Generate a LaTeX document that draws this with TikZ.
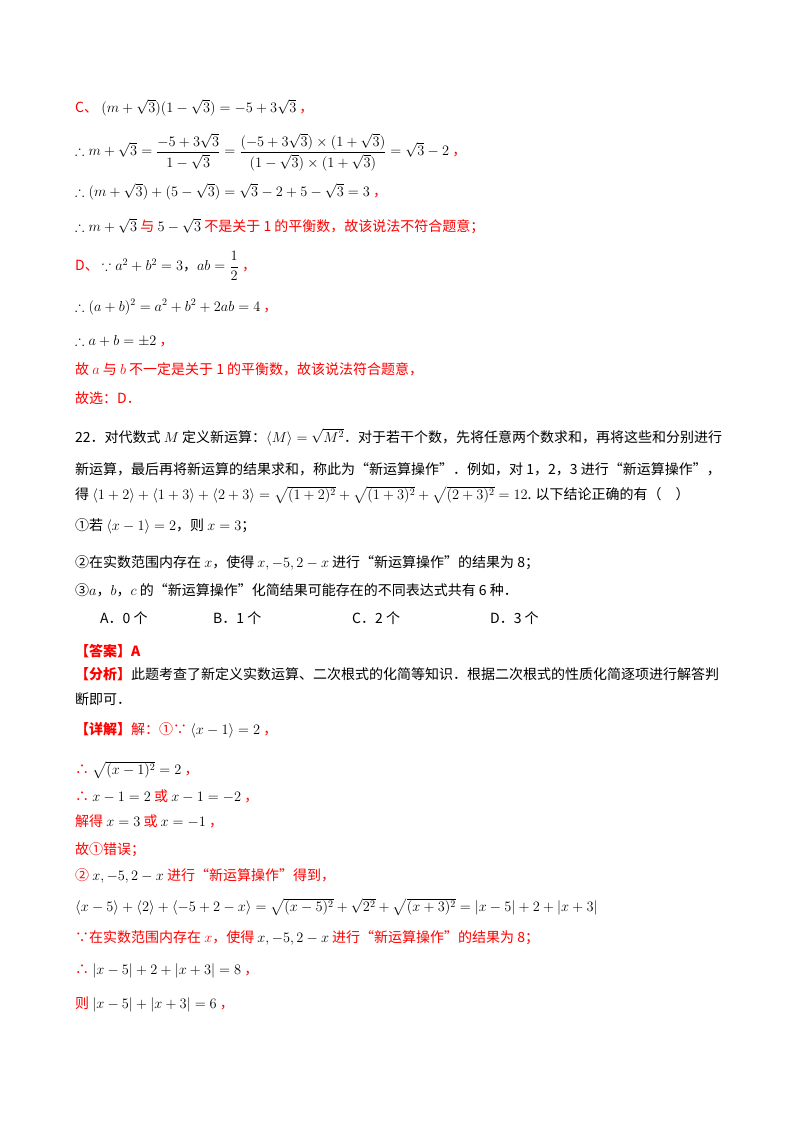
\documentclass[tikz,border=0pt]{standalone}
\usepackage{amsmath,amssymb}
\usepackage{fontspec}
\setmainfont{Noto Sans CJK SC}
\definecolor{rd}{RGB}{255,0,0}
\newcommand{\R}[1]{{\color{rd}#1}}
\begin{document}
\begin{tikzpicture}[x=1pt,y=-1pt,t/.style={anchor=west,inner sep=0pt,font=\fontsize{14}{16}\selectfont}]
\useasboundingbox (0,0) rectangle (800,1132);
\node[t] (l1) at (75,108) {\R{C、} $(m+\sqrt3)(1-\sqrt3)=-5+3\sqrt3$ \R{，}};
\node[t] (l2) at (75,152) {$\therefore m+\sqrt3=\dfrac{-5+3\sqrt3}{1-\sqrt3}=\dfrac{(-5+3\sqrt3)\times(1+\sqrt3)}{(1-\sqrt3)\times(1+\sqrt3)}=\sqrt3-2$ \R{，}};
\node[t] (l3) at (75,192) {$\therefore (m+\sqrt3)+(5-\sqrt3)=\sqrt3-2+5-\sqrt3=3$ \R{，}};
\node[t] (l4) at (75,226) {$\therefore m+\sqrt3$ \R{与} $5-\sqrt3$ \R{不是关于 1 的平衡数，故该说法不符合题意；}};
\node[t] (l5) at (75,266) {\R{D、} $\because a^2+b^2=3$，$ab=\dfrac12$ \R{，}};
\node[t] (l6) at (75,307) {$\therefore (a+b)^2=a^2+b^2+2ab=4$ \R{，}};
\node[t] (l7) at (75,341) {$\therefore a+b=\pm2$ \R{，}};
\node[t] (l8) at (75,369) {\R{故 $a$ 与 $b$ 不一定是关于 1 的平衡数，故该说法符合题意，}};
\node[t] (l9) at (75,398) {\R{故选：D．}};
\node[t] (l10) at (75,437) {22．对代数式 $M$ 定义新运算：$\langle M\rangle=\sqrt{M^2}$．对于若干个数，先将任意两个数求和，再将这些和分别进行};
\node[t] (l11) at (75,469) {新运算，最后再将新运算的结果求和，称此为“新运算操作”．例如，对 1，2，3 进行“新运算操作”，};
\node[t] (l12) at (75,495) {得 $\langle1+2\rangle+\langle1+3\rangle+\langle2+3\rangle=\sqrt{(1+2)^2}+\sqrt{(1+3)^2}+\sqrt{(2+3)^2}=12$. 以下结论正确的有（\quad）};
\node[t] (l13) at (75,526) {①若 $\langle x-1\rangle=2$，则 $x=3$；};
\node[t] (l14) at (75,563) {②在实数范围内存在 $x$，使得 $x,-5,2-x$ 进行“新运算操作”的结果为 8；};
\node[t] (l15) at (75,590) {③$a$，$b$，$c$ 的“新运算操作”化简结果可能存在的不同表达式共有 6 种．};
\node[t] (oa) at (100,618) {A．0 个};
\node[t] (ob) at (213,618) {B．1 个};
\node[t] (oc) at (352,618) {C．2 个};
\node[t] (od) at (490,618) {D．3 个};
\node[t] (l17) at (75,651) {\R{\textbf{【答案】A}}};
\node[t] (l18) at (75,674) {\R{\textbf{【分析】}}此题考查了新定义实数运算、二次根式的化简等知识．根据二次根式的性质化简逐项进行解答判};
\node[t] (l19) at (75,699) {断即可．};
\node[t] (l20) at (75,730) {\R{\textbf{【详解】}解：①∵} $\langle x-1\rangle=2$ \R{，}};
\node[t] (l21) at (75,770) {\R{∴} $\sqrt{(x-1)^2}=2$ \R{，}};
\node[t] (l22) at (75,796) {\R{∴} $x-1=2$ \R{或} $x-1=-2$ \R{，}};
\node[t] (l23) at (75,821) {\R{解得} $x=3$ \R{或} $x=-1$ \R{，}};
\node[t] (l24) at (75,850) {\R{故①错误；}};
\node[t] (l25) at (75,876) {\R{②} $x,-5,2-x$ \R{进行“新运算操作”得到，}};
\node[t] (l26) at (75,907) {$\langle x-5\rangle+\langle2\rangle+\langle-5+2-x\rangle=\sqrt{(x-5)^2}+\sqrt{2^2}+\sqrt{(x+3)^2}=|x-5|+2+|x+3|$};
\node[t] (l27) at (75,938) {\R{∵在实数范围内存在 $x$，使得} $x,-5,2-x$ \R{进行“新运算操作”的结果为 8；}};
\node[t] (l28) at (75,971) {\R{∴} $|x-5|+2+|x+3|=8$ \R{，}};
\node[t] (l29) at (75,1004) {\R{则} $|x-5|+|x+3|=6$ \R{，}};
\end{tikzpicture}
\end{document}
